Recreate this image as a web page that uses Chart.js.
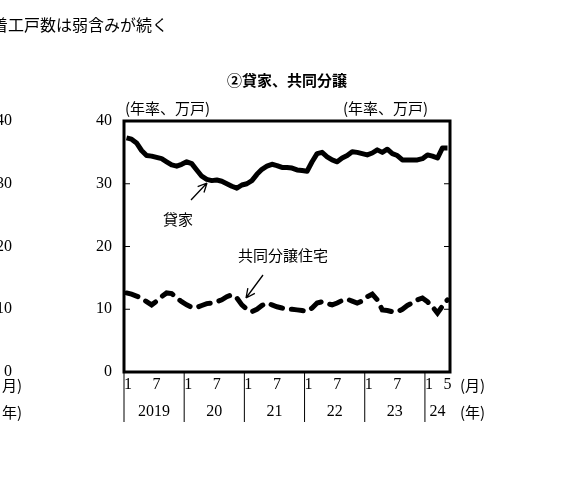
<!DOCTYPE html><html><head><meta charset="utf-8">
<script src="https://cdn.jsdelivr.net/npm/chart.js@4"></script>
<style>body{margin:0;background:#fff}#w{width:576px;height:504px;position:relative}</style></head><body>
<div id="w"><canvas id="c" width="576" height="504"></canvas></div>
<script>
const rental=[37.3,37.1,36.5,35.3,34.5,34.4,34.2,34.0,33.5,33.0,32.8,33.1,33.5,33.2,32.2,31.2,30.7,30.5,30.6,30.4,30.0,29.6,29.3,29.8,30.0,30.5,31.5,32.3,32.8,33.1,32.9,32.6,32.6,32.5,32.2,32.1,32.0,33.5,34.8,35.0,34.3,33.8,33.5,34.1,34.5,35.1,35.0,34.8,34.6,34.9,35.4,35.0,35.5,34.8,34.5,33.8,33.8,33.8,33.8,34.0,34.6,34.4,34.1,35.7,35.7];
const condo=[12.6,12.4,12.1,11.8,11.2,10.7,11.3,12.0,12.6,12.5,11.8,11.2,10.7,10.3,10.3,10.6,10.9,11.0,11.2,11.5,12.0,12.3,11.8,10.7,10.0,9.6,10.0,10.6,11.0,10.7,10.4,10.2,10.0,10.0,9.9,9.8,9.7,10.2,11.0,11.2,10.9,10.7,11.0,11.4,11.6,11.3,11.0,11.3,12.0,12.4,11.5,9.9,9.8,9.6,9.6,10.0,10.6,11.0,11.5,11.8,11.2,10.4,9.4,10.5,11.5];
const yTicks=[0,10,20,30,40];
const years=["2019","20","21","22","23","24"];
const monthLabels=[["1",0],["7",6]];
const serif='"Liberation Serif","DejaVu Serif",serif';
const jp='"Noto Sans CJK JP",sans-serif';
const pts=a=>a.map((v,i)=>({x:i+0.5,y:v}));
const deco={id:'deco',afterDraw(ch){
 const c=ch.ctx,x=ch.scales.x,y=ch.scales.y,a=ch.chartArea;
 c.save();c.fillStyle='#000';c.strokeStyle='#000';
 c.lineWidth=3;c.strokeRect(a.left,a.top,a.right-a.left,a.bottom-a.top);
 c.lineWidth=1;
 c.font='16px '+serif;c.textAlign='right';c.textBaseline='middle';
 yTicks.forEach(t=>{const p=y.getPixelForValue(t);c.fillText(String(t),112,p);
  if(t>0&&t<40){c.beginPath();c.moveTo(a.left,p);c.lineTo(a.left+6,p);c.moveTo(a.right,p);c.lineTo(a.right-6,p);c.stroke();}
  c.fillText(String(t),12,p);});
 c.textAlign='center';
 for(let k=0;k<6;k++){const s=x.getPixelForValue(12*k);
  c.beginPath();c.moveTo(s,a.bottom);c.lineTo(s,a.bottom+50);c.stroke();
  const ml=k<5?monthLabels:[["1",0],["5",4]];
  ml.forEach(([t,m])=>{let px=x.getPixelForValue(12*k+m+0.5);if(m===0)px=s+4;c.fillText(t,px,a.bottom+13);});
  const e=Math.min(x.getPixelForValue(12*k+12),a.right);c.fillText(years[k],(s+e)/2,a.bottom+40);}
 c.font='15px '+jp;c.textAlign='left';c.fillText('(月)',460,a.bottom+13);c.fillText('(年)',460,a.bottom+40);
 c.textAlign='right';c.fillText('月)',22,a.bottom+13);c.fillText('年)',22,a.bottom+40);
 c.textAlign='left';c.fillText('(年率、万戸)',125,108);c.fillText('(年率、万戸)',343,108);
 c.fillText('貸家',163,219);c.fillText('共同分譲住宅',238,255);
 c.font='16px '+jp;c.fillText('着工戸数は弱含みが続く',-8,25);
 c.font='bold 15px '+jp;c.textAlign='center';c.fillText('②貸家、共同分譲',287,80);
 const arrow=(x1,y1,x2,y2)=>{c.beginPath();c.moveTo(x1,y1);c.lineTo(x2,y2);const an=Math.atan2(y2-y1,x2-x1);
  c.moveTo(x2,y2);c.lineTo(x2-10*Math.cos(an-0.45),y2-10*Math.sin(an-0.45));c.moveTo(x2,y2);c.lineTo(x2-10*Math.cos(an+0.45),y2-10*Math.sin(an+0.45));c.stroke();};
 c.lineWidth=1.3;arrow(191,200,207,183);arrow(263,275,246,298);
 c.restore();}};
new Chart(document.getElementById('c'),{type:'line',
 data:{datasets:[
  {data:pts(rental),borderColor:'#000',borderWidth:5,pointRadius:0,tension:0,borderJoinStyle:'round'},
  {data:pts(condo),borderColor:'#000',borderWidth:5,pointRadius:0,tension:0,borderDash:[12,9],borderCapStyle:'round'}]},
 options:{responsive:false,animation:false,layout:{padding:{left:124,top:121,right:126,bottom:132}},
  plugins:{legend:{display:false},tooltip:{enabled:false}},
  scales:{x:{type:'linear',min:0,max:65,display:false},y:{min:0,max:40,display:false}}},
 plugins:[deco]});
</script></body></html>
